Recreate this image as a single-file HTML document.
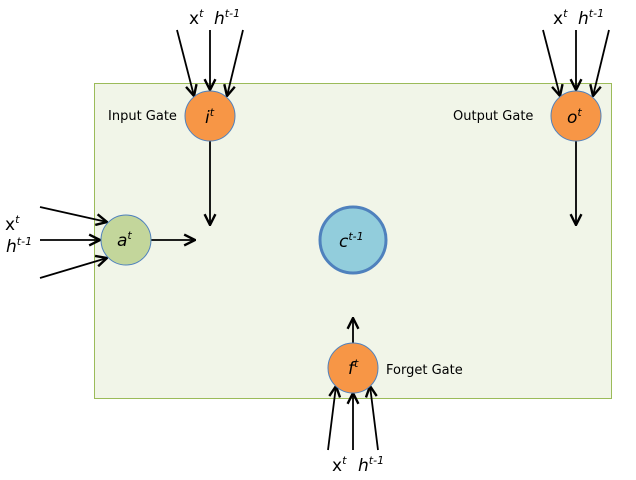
<!DOCTYPE html>
<html><head><meta charset="utf-8"><style>body{margin:0;background:#fff}svg{display:block}text{font-family:"DejaVu Sans","Liberation Sans",sans-serif}</style></head><body>
<svg width="636" height="480" viewBox="0 0 636 480" xmlns="http://www.w3.org/2000/svg">
<defs><marker id="a" viewBox="0 0 12 12" refX="11" refY="6" markerWidth="13" markerHeight="13" markerUnits="userSpaceOnUse" orient="auto"><path d="M1,1 L11,6 L1,11" fill="none" stroke="#000" stroke-width="2.2"/></marker></defs>
<rect x="94.5" y="83.5" width="517" height="315" fill="#f1f5e8" stroke="#9bbb59" stroke-width="1"/>
<g stroke="#000" stroke-width="1.8" marker-end="url(#a)">
<line x1="177" y1="30" x2="194" y2="96"/><line x1="210" y1="30" x2="210" y2="90"/><line x1="243" y1="30" x2="227" y2="96"/>
<line x1="543" y1="30" x2="560" y2="96"/><line x1="576" y1="30" x2="576" y2="90"/><line x1="609" y1="30" x2="593" y2="96"/>
<line x1="210" y1="141" x2="210" y2="225"/><line x1="576" y1="141" x2="576" y2="225"/>
<line x1="40" y1="207" x2="107" y2="222"/><line x1="40" y1="240" x2="100" y2="240"/><line x1="40" y1="278" x2="107" y2="258"/>
<line x1="151" y1="240" x2="195" y2="240"/>
<line x1="353" y1="343" x2="353" y2="318"/>
<line x1="328" y1="450" x2="336" y2="386"/><line x1="353" y1="450" x2="353" y2="393"/><line x1="378" y1="450" x2="370" y2="386"/>
</g>
<circle cx="210" cy="116" r="25" fill="#f79646" stroke="#4f81bd" stroke-width="1"/>
<circle cx="576" cy="116" r="25" fill="#f79646" stroke="#4f81bd" stroke-width="1"/>
<circle cx="353" cy="368" r="25" fill="#f79646" stroke="#4f81bd" stroke-width="1"/>
<circle cx="126" cy="240" r="25" fill="#c3d69b" stroke="#4f81bd" stroke-width="1"/>
<circle cx="353" cy="240" r="33" fill="#92cddc" stroke="#4f81bd" stroke-width="3"/>
<g font-size="13" fill="#000">
<text x="108" y="120">Input Gate</text><text x="453" y="120">Output Gate</text><text x="386" y="374">Forget Gate</text>
</g>
<g font-size="17" font-style="italic" fill="#000">
<text x="205" y="123">i<tspan font-size="11" dy="-7">t</tspan></text>
<text x="567" y="123">o<tspan font-size="11" dy="-7">t</tspan></text>
<text x="348" y="374">f<tspan font-size="11" dy="-7">t</tspan></text>
<text x="117" y="246">a<tspan font-size="11" dy="-7">t</tspan></text>
<text x="339" y="247">c<tspan font-size="11" dy="-7">t-1</tspan></text>
</g>
<g font-size="17" fill="#000">
<text x="189" y="24">x<tspan font-size="11" dy="-7" font-style="italic">t</tspan></text>
<text x="214" y="24" font-style="italic">h<tspan font-size="11" dy="-7">t-1</tspan></text>
<text x="553" y="24">x<tspan font-size="11" dy="-7" font-style="italic">t</tspan></text>
<text x="578" y="24" font-style="italic">h<tspan font-size="11" dy="-7">t-1</tspan></text>
<text x="5" y="230">x<tspan font-size="11" dy="-7" font-style="italic">t</tspan></text>
<text x="6" y="252" font-style="italic">h<tspan font-size="11" dy="-7">t-1</tspan></text>
<text x="332" y="471">x<tspan font-size="11" dy="-7" font-style="italic">t</tspan></text>
<text x="358" y="471" font-style="italic">h<tspan font-size="11" dy="-7">t-1</tspan></text>
</g>
</svg>
</body></html>
